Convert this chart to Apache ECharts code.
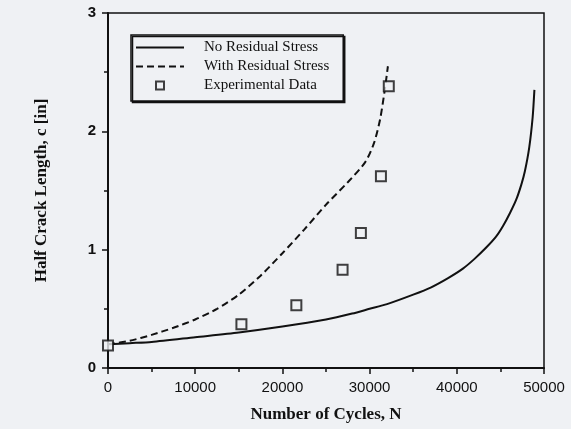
<!DOCTYPE html>
<html>
<head>
<meta charset="utf-8">
<script src="https://cdn.jsdelivr.net/npm/echarts@6/dist/echarts.min.js"></script>
<style>
  html, body { margin: 0; padding: 0; background: #eff1f4; }
  #chart { width: 571px; height: 429px; }
</style>
</head>
<body>
<div id="chart"></div>
<script>
// crack growth curves
const cyclesNoRS = [0, 2500, 5000, 10000, 15000, 20000, 25000, 28000, 30000, 32000, 35000, 37000, 39000, 40700, 42000, 43400, 44500, 45300, 46100, 46800, 47400, 47800, 48300, 48700, 48900];
const crackNoRS = [0.2, 0.21, 0.22, 0.26, 0.3, 0.35, 0.41, 0.46, 0.5, 0.54, 0.62, 0.68, 0.76, 0.84, 0.92, 1.02, 1.11, 1.2, 1.31, 1.42, 1.55, 1.66, 1.86, 2.12, 2.35];

const cyclesRS = [0, 2500, 5000, 7500, 10000, 12500, 15000, 17500, 20000, 22500, 25000, 27500, 29500, 30500, 31200, 31700, 32100];
const crackRS = [0.2, 0.23, 0.28, 0.34, 0.41, 0.5, 0.62, 0.78, 0.97, 1.17, 1.38, 1.57, 1.74, 1.9, 2.1, 2.33, 2.55];

const cyclesExp = [0, 15300, 21600, 26900, 29000, 31300, 32200];
const crackExp = [0.19, 0.37, 0.53, 0.83, 1.14, 1.62, 2.38];

const seriesNames = ["No Residual Stress", "With Residual Stress", "Experimental Data"];

const bg = "#eff1f4";
const ink = "#111";

function pairs(xs, ys) {
  return xs.map((x, i) => [x, ys[i]]);
}

// no marker on the line items of the legend
const hideMarker = { color: "transparent", borderColor: "transparent", borderWidth: 0 };
// small hollow square centred in a 48x10 box (the moveTo's set the box size)
const squareIcon = "path://M0,0M48,10M19,0h10v10h-10zM21,2v6h6v-6z";

let myChart = echarts.init(document.getElementById("chart"));
let option = {
  backgroundColor: bg,
  animation: false,
  grid: {
    left: 108,
    right: 27,
    top: 13,
    bottom: 61,
    show: true,
    borderColor: ink,
    borderWidth: 1.5
  },
  legend: {
    data: [
      { name: seriesNames[0], itemStyle: hideMarker },
      { name: seriesNames[1], itemStyle: hideMarker },
      { name: seriesNames[2], icon: squareIcon, itemStyle: { color: ink, borderWidth: 0 } }
    ],
    orient: "vertical",
    left: 131,
    top: 35,
    padding: [5, 14, 8, 4],
    itemWidth: 48,
    itemHeight: 10,
    itemGap: 4,
    borderColor: ink,
    borderWidth: 1.5,
    backgroundColor: bg,
    shadowColor: ink,
    shadowBlur: 0,
    shadowOffsetX: 1.5,
    shadowOffsetY: 1.5,
    textStyle: {
      fontFamily: "Liberation Serif",
      fontSize: 15,
      color: ink,
      padding: [0, 0, 0, 15]
    }
  },
  xAxis: {
    type: "value",
    min: 0,
    max: 50000,
    interval: 10000,
    name: "Number of Cycles, N",
    nameLocation: "middle",
    nameGap: 38,
    nameTextStyle: {
      fontFamily: "Liberation Serif",
      fontWeight: "bold",
      fontSize: 17,
      color: ink
    },
    axisLine: { lineStyle: { color: ink, width: 2 } },
    axisTick: { show: true, length: 6, lineStyle: { color: ink, width: 1.5 } },
    minorTick: { show: true, splitNumber: 2, length: 4, lineStyle: { color: ink, width: 1.5 } },
    splitLine: { show: false },
    axisLabel: {
      fontFamily: "Liberation Sans",
      fontSize: 15,
      color: ink,
      margin: 12,
      formatter: (v) => String(v)
    }
  },
  yAxis: {
    type: "value",
    min: 0,
    max: 3,
    interval: 1,
    name: "Half Crack Length, c [in]",
    nameLocation: "middle",
    nameGap: 58,
    nameTextStyle: {
      fontFamily: "Liberation Serif",
      fontWeight: "bold",
      fontSize: 17,
      color: ink
    },
    axisLine: { lineStyle: { color: ink, width: 2 } },
    axisTick: { show: true, length: 6, lineStyle: { color: ink, width: 1.5 } },
    minorTick: { show: true, splitNumber: 2, length: 4, lineStyle: { color: ink, width: 1.5 } },
    splitLine: { show: false },
    axisLabel: {
      fontFamily: "Liberation Sans",
      fontWeight: "bold",
      fontSize: 15,
      color: ink,
      margin: 12
    }
  },
  series: [
    {
      name: seriesNames[0],
      type: "line",
      smooth: 0.25,
      symbol: "none",
      data: pairs(cyclesNoRS, crackNoRS),
      lineStyle: { color: ink, width: 2 },
      itemStyle: { color: ink }
    },
    {
      name: seriesNames[1],
      type: "line",
      smooth: 0.25,
      symbol: "none",
      data: pairs(cyclesRS, crackRS),
      lineStyle: { color: ink, width: 2, type: [7, 4] },
      itemStyle: { color: ink }
    },
    {
      name: seriesNames[2],
      type: "scatter",
      symbol: "rect",
      symbolSize: 10,
      data: pairs(cyclesExp, crackExp),
      itemStyle: { color: bg, borderColor: ink, borderWidth: 2 },
      z: 5
    }
  ]
};
myChart.setOption(option);
</script>
</body>
</html>
